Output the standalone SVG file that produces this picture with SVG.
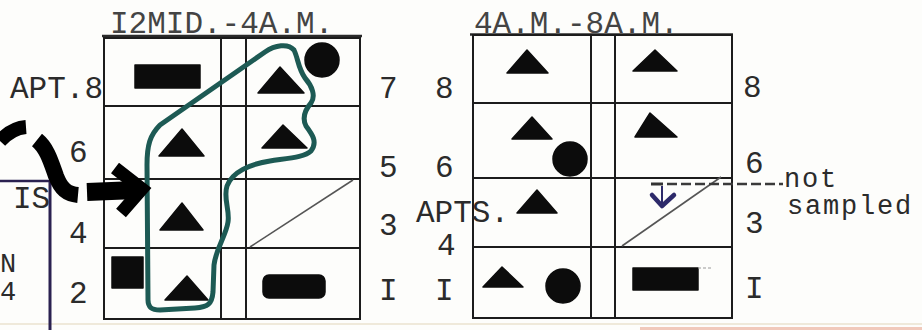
<svg xmlns="http://www.w3.org/2000/svg" width="922" height="330" viewBox="0 0 922 330">
<style>
.bg{fill:#fdfdfb}
.t{font-family:"Liberation Mono","Courier New",monospace;font-size:31px;fill:#2b2b2b}
.s{font-size:27px;letter-spacing:1.8px}
.ttl{fill:#444}
.g{stroke:#1c1c1c;stroke-width:2;fill:none;stroke-linecap:square}
.ul{stroke:#2a2a2a;stroke-width:2.5;fill:none}
.m{fill:#0c0c0c;stroke:#0c0c0c;stroke-width:1.5;stroke-linejoin:round}
.diag{stroke:#555;stroke-width:1.6;fill:none}
.arr{stroke:#000;fill:none}
</style>
<rect class="bg" x="0" y="0" width="922" height="330"/>
<line x1="0" y1="324" x2="922" y2="324" stroke="#efe9da" stroke-width="2"/>
<line x1="640" y1="328.5" x2="922" y2="328.5" stroke="#f1c9bb" stroke-width="3"/>

<g id="left-box">
  <line x1="0" y1="181" x2="50" y2="181" stroke="#2a2150" stroke-width="2.5"/>
  <line x1="50" y1="181" x2="50" y2="330" stroke="#2a2150" stroke-width="3"/>
  <text class="t" x="13" y="208">IS</text>
  <text class="t s" x="0" y="272">N</text>
  <text class="t s" x="0" y="300">4</text>
</g>

<g id="grid-midnight">
  <text class="t ttl" x="110" y="33">I2MID.-4A.M.</text>
  <line class="ul" x1="102" y1="36" x2="362" y2="36"/>
  <path class="g" d="M104,38 H360 V319 H104 Z M221,38 V319 M246,38 V319 M104,106 H360 M104,179 H360 M104,248 H360"/>
  <rect class="m" x="135" y="65" width="65" height="23"/>
  <polygon class="m" points="280,67 258,93 304,93"/>
  <circle class="m" cx="322" cy="60" r="17"/>
  <polygon class="m" points="182,129 159,156 204,156"/>
  <polygon class="m" points="283,125 262,148 307,148"/>
  <polygon class="m" points="182,203 160,230 203,230"/>
  <line class="diag" x1="250" y1="247" x2="353" y2="180"/>
  <rect class="m" x="112" y="257" width="31" height="31"/>
  <polygon class="m" points="187,276 165,300 208,300"/>
  <rect class="m" x="263" y="275" width="62" height="23" rx="6"/>
  <text class="t" x="10" y="98">APT.8</text>
  <text class="t" x="69" y="162">6</text>
  <text class="t" x="69" y="243">4</text>
  <text class="t" x="69" y="303">2</text>
  <text class="t" x="379" y="98">7</text>
  <text class="t" x="379" y="177">5</text>
  <text class="t" x="379" y="235">3</text>
  <text class="t" x="379" y="300">I</text>
</g>

<g id="grid-morning">
  <text class="t ttl" x="474" y="33">4A.M.-8A.M.</text>
  <line class="ul" x1="470" y1="34.5" x2="733" y2="34.5"/>
  <path class="g" d="M473,35 H732 V318 H473 Z M591,35 V318 M615,35 V318 M473,103 H732 M473,178 H732 M473,247 H732"/>
  <polygon class="m" points="527,50 507,73 548,73"/>
  <polygon class="m" points="655,50 633,71 677,71"/>
  <polygon class="m" points="532,117 512,139 552,139"/>
  <circle class="m" cx="570" cy="159" r="17"/>
  <polygon class="m" points="650,113 635,137 677,137"/>
  <polygon class="m" points="537,190 517,213 557,213"/>
  <line class="diag" x1="622" y1="246" x2="721" y2="177"/>
  <polygon class="m" points="502,267 483,287 523,287"/>
  <circle class="m" cx="563" cy="286" r="17"/>
  <rect class="m" x="633" y="268" width="65" height="22"/>
  <line x1="698" y1="268" x2="712" y2="268" stroke="#999" stroke-width="1" stroke-dasharray="3 2"/>
  <text class="t" x="435" y="98">8</text>
  <text class="t" x="435" y="177">6</text>
  <text class="t" x="416" y="222">APTS.</text>
  <text class="t" x="437" y="255">4</text>
  <text class="t" x="435" y="300">I</text>
  <text class="t" x="743" y="97">8</text>
  <text class="t" x="745" y="173">6</text>
  <text class="t" x="745" y="233">3</text>
  <text class="t" x="745" y="298">I</text>
</g>

<g id="not-sampled">
  <line x1="651" y1="184" x2="663" y2="184" stroke="#333" stroke-width="3"/>
  <line x1="667" y1="184" x2="783" y2="184" stroke="#3a3a3a" stroke-width="2.5" stroke-dasharray="10 4"/>
  <line x1="662" y1="186" x2="662" y2="204" stroke="#2d2a6a" stroke-width="2"/>
  <polyline points="652,195 662,206 674,195" fill="none" stroke="#2d2a6a" stroke-width="4.5" stroke-linejoin="round" stroke-linecap="round"/>
  <text class="t s" x="784" y="187">not</text>
  <text class="t s" x="787" y="214">sampled</text>
</g>

<g id="connectors">
  <path d="M148,300 L147,165 C147,145 150,135 160,125 L265,52 C275,45 288,43 294,50 C298,58 298,68 305,78 C312,86 316,96 311,103 C305,110 302,118 306,126 C312,134 318,142 311,151 C305,157 290,158 270,161 C250,164 232,172 227,186 C223,198 230,210 228,222 C226,236 216,248 214,265 L213,292 C212,304 208,307 195,308 L160,310 C150,310 148,306 148,300 Z" fill="none" stroke="#1d5a54" stroke-width="5" stroke-linejoin="round"/>
  <path class="arr" d="M0,141 Q12,128 26,127" stroke-width="14"/>
  <path class="arr" d="M37,140 C47,148 51,162 56,176 C61,189 67,194 78,195" stroke-width="16"/>
  <path class="arr" d="M87,192 L136,190" stroke-width="18"/>
  <path class="arr" d="M115,168 L142,189 L121,213" stroke-width="13" stroke-linejoin="miter"/>
</g>
</svg>
